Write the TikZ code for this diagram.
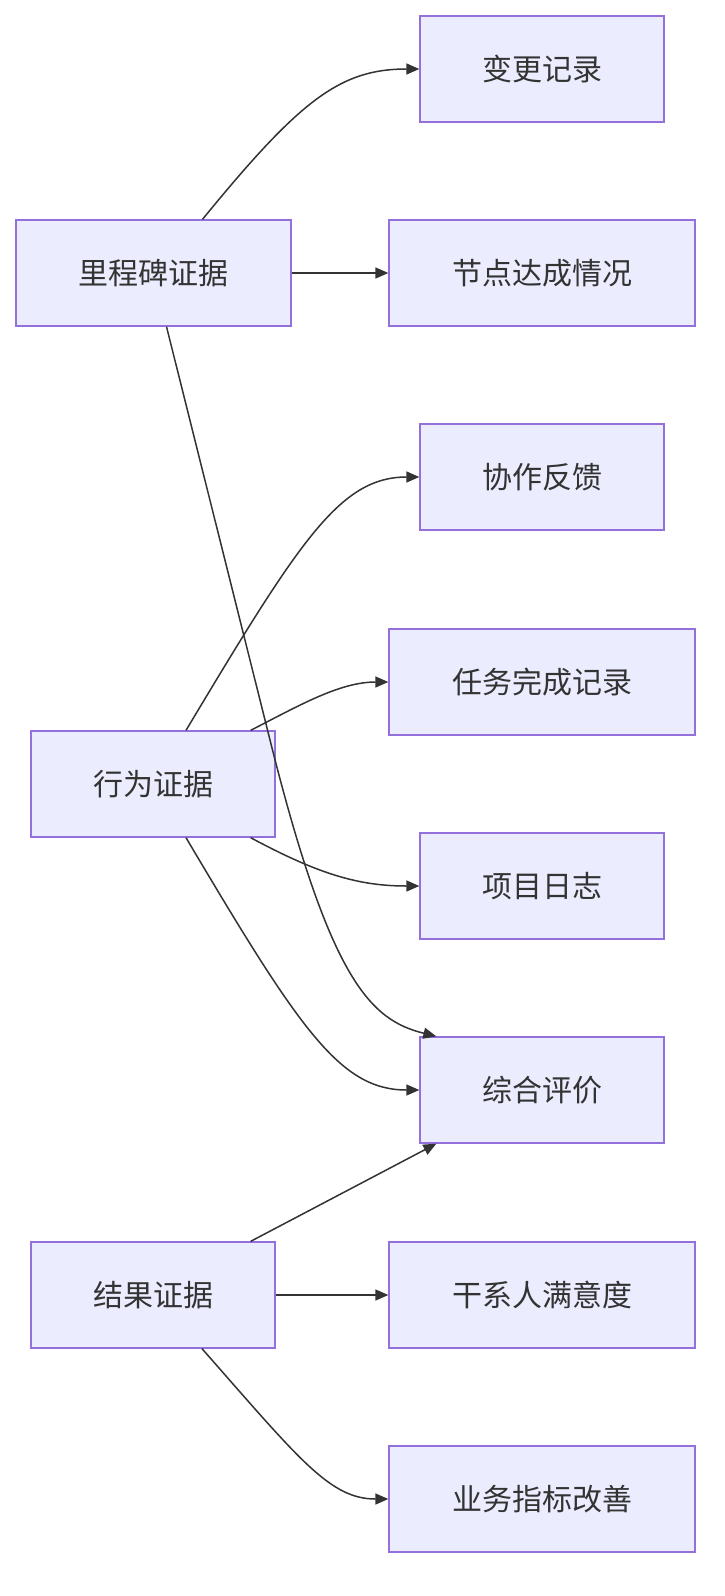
\documentclass[tikz,border=0pt]{standalone}
\usepackage{fontspec}
\setmainfont{Noto Sans CJK SC}
\usetikzlibrary{arrows.meta}
\definecolor{nfill}{HTML}{ECECFF}
\definecolor{nline}{HTML}{9370DB}
\definecolor{eline}{HTML}{333333}
\begin{document}
\begin{tikzpicture}[x=1pt,y=-1pt,
  box/.style={draw=nline,fill=nfill,line width=1.3pt,minimum height=106pt,inner sep=0pt,font=\fontsize{30}{36}\selectfont,text=eline},
  e/.style={draw=eline,line width=1.5pt,-{Triangle[length=13pt,width=11pt]}}]
\useasboundingbox (0,0) rectangle (724,1596);
\node[box,minimum width=244pt] (a) at (542,69) {变更记录};
\node[box,minimum width=275pt] (m) at (153.5,273) {里程碑证据};
\node[box,minimum width=306pt] (b) at (542,273) {节点达成情况};
\node[box,minimum width=244pt] (c) at (542,477) {协作反馈};
\node[box,minimum width=306pt] (d) at (542,682) {任务完成记录};
\node[box,minimum width=244pt] (x) at (153,784) {行为证据};
\node[box,minimum width=244pt] (f) at (542,886) {项目日志};
\node[box,minimum width=244pt] (g) at (542,1090) {综合评价};
\node[box,minimum width=244pt] (y) at (153,1295) {结果证据};
\node[box,minimum width=306pt] (h) at (542,1295) {干系人满意度};
\node[box,minimum width=306pt] (i) at (542,1499) {业务指标改善};
\coordinate (mk) at (270,740);
\draw[e] (m.north)++(49,0) .. controls (300,100) and (340,69) .. (a.west);
\draw[e] (m.east) -- (b.west);
\draw[e] (m.south)++(13,0) -- (mk) .. controls (330,980) and (370,1020) .. ([xshift=17pt]g.north west);
\draw[e] ([xshift=33pt]x.north) .. controls (300,540) and (340,477) .. (c.west);
\draw[e] ([xshift=-25pt]x.north east) .. controls (300,705) and (340,682) .. (d.west);
\draw[e] ([xshift=-25pt]x.south east) .. controls (320,875) and (360,886) .. (f.west);
\draw[e] ([xshift=33pt]x.south) .. controls (300,1030) and (340,1090) .. (g.west);
\draw[e] ([xshift=-25pt]y.north east) -- ([xshift=17pt]g.south west);
\draw[e] (y.east) -- (h.west);
\draw[e] ([xshift=49pt]y.south) .. controls (300,1460) and (330,1499) .. (i.west);
\end{tikzpicture}
\end{document}
